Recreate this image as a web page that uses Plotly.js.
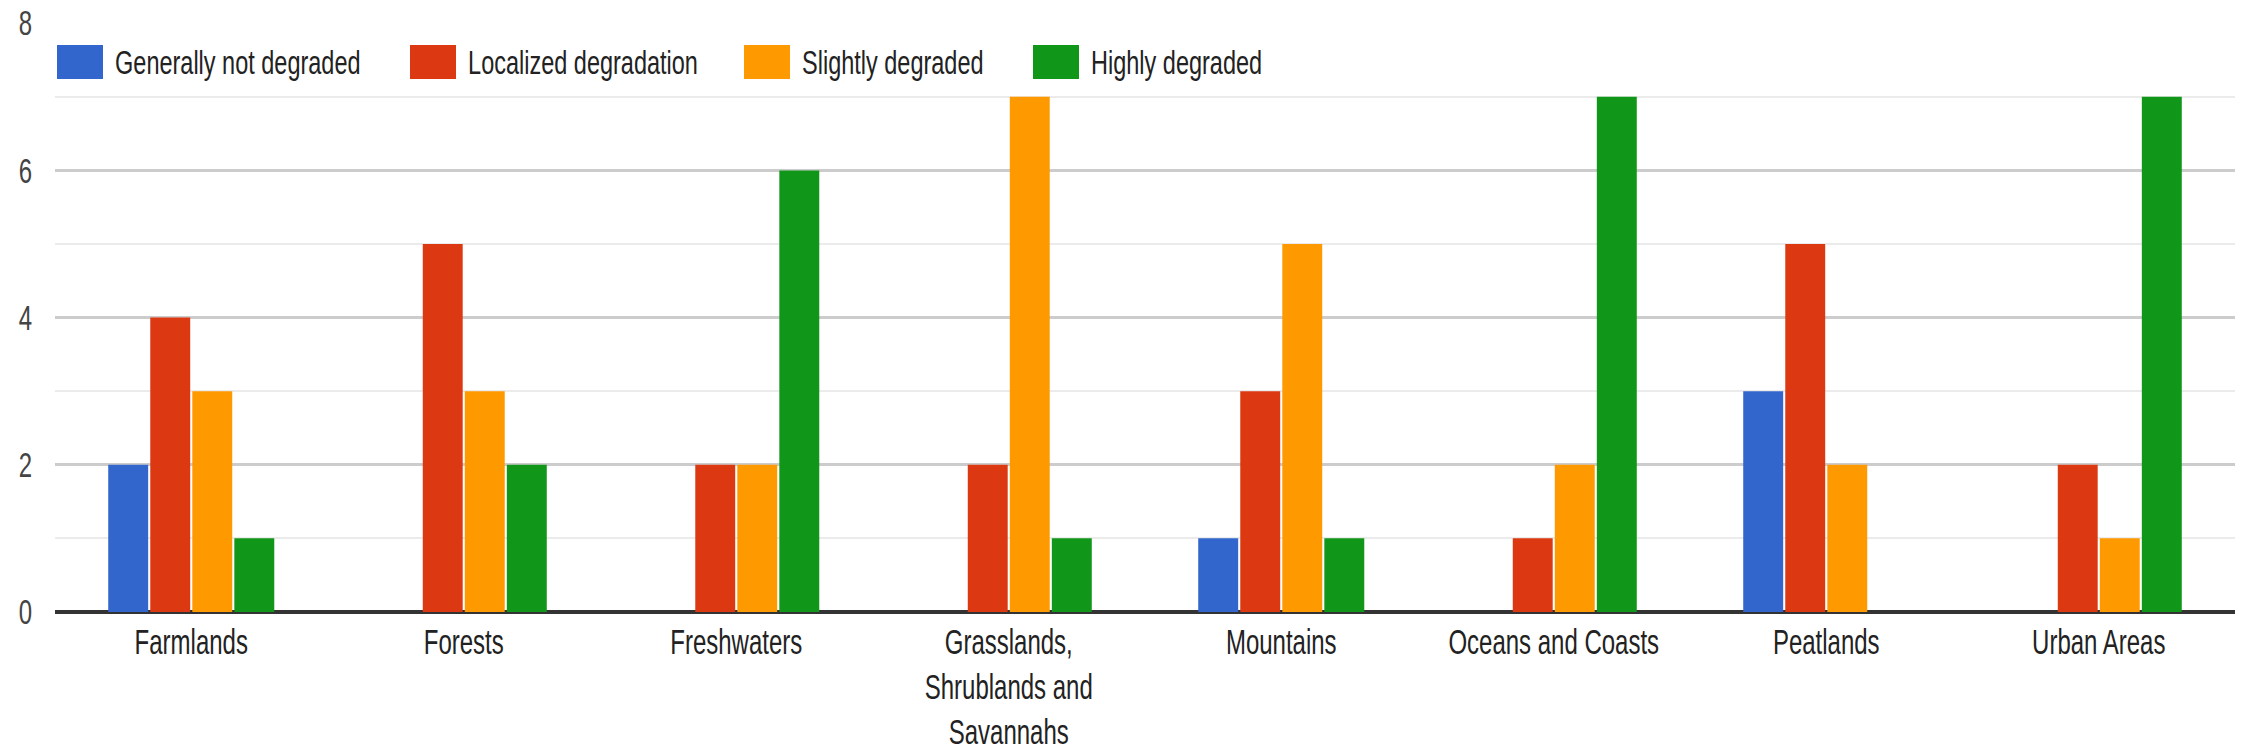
<!DOCTYPE html>
<html>
<head>
<meta charset="utf-8">
<script src="https://cdn.plot.ly/plotly-3.0.1.min.js"></script>
<style>
  html, body { margin: 0; padding: 0; background: #ffffff; width: 2247px; height: 751px; overflow: hidden; }
  #outer { position: relative; width: 2247px; height: 751px; overflow: hidden; }
  #wrap { position: absolute; left: 0; top: 0; width: 2247px; height: 518px; transform: scaleY(1.45); transform-origin: 0 0; }
  #chart { width: 2247px; height: 518px; }
</style>
</head>
<body>
<div id="outer"><div id="wrap"><div id="chart"></div></div></div>
<script>
// ---- data ----
const categories = ["Farmlands", "Forests", "Freshwaters", "Grasslands,<br>Shrublands and<br>Savannahs",
                    "Mountains", "Oceans and Coasts", "Peatlands", "Urban Areas"];
const seriesNames = ["Generally not degraded", "Localized degradation", "Slightly degraded", "Highly degraded"];
const seriesColors = ["#3366cc", "#dc3912", "#ff9900", "#109618"];
const notDegraded   = [2, 0, 0, 0, 1, 0, 3, 0];
const localized     = [4, 5, 2, 2, 3, 1, 5, 2];
const slightly      = [3, 3, 2, 7, 5, 2, 2, 1];
const highly        = [1, 2, 6, 1, 1, 7, 0, 7];
const yTickValues   = [0, 2, 4, 6, 8];

const seriesValues = [notDegraded, localized, slightly, highly];

// ---- layout helpers (pixel geometry, before the vertical 1.45 stretch) ----
const W = 2247, H = 518;
const mL = 55, mR = 12, mT = 16, mB = 96;
const plotW = W - mL - mR, plotH = H - mT - mB;
const px2x = p => (p - mL) / plotW;
const py2y = p => (H - mB - p) / plotH;

const traces = seriesValues.map((vals, i) => ({
  type: "bar",
  name: seriesNames[i],
  x: categories,
  y: vals,
  marker: { color: seriesColors[i], line: { width: 0 } },
  showlegend: false,
  hoverinfo: "skip"
}));

// manual legend (large square swatches like the reference)
const legendBoxLeft = [57, 410, 744, 1033];
const shapes = [], annotations = [];
seriesNames.forEach((n, i) => {
  shapes.push({
    type: "rect", xref: "paper", yref: "paper",
    x0: px2x(legendBoxLeft[i]), x1: px2x(legendBoxLeft[i] + 46),
    y0: py2y(54.5), y1: py2y(31),
    fillcolor: seriesColors[i], line: { width: 0 }
  });
  annotations.push({
    xref: "paper", yref: "paper",
    x: px2x(legendBoxLeft[i] + 56), y: py2y(42.8),
    xanchor: "left", yanchor: "middle",
    text: n, showarrow: false,
    font: { family: "Liberation Sans, Arial, sans-serif", size: 23.5, color: "#222222" }
  });
});

const layout = {
  width: W, height: H,
  margin: { l: mL, r: mR, t: mT, b: mB },
  paper_bgcolor: "#ffffff",
  plot_bgcolor: "#ffffff",
  font: { family: "Liberation Sans, Arial, sans-serif", size: 24, color: "#222222" },
  barmode: "group",
  bargap: 0.383,
  bargroupgap: 0.05,
  showlegend: false,
  xaxis: {
    type: "category",
    showgrid: false,
    showline: false,
    ticks: "",
    tickfont: { size: 24, color: "#222222" },
    ticklabelstandoff: 4,
    fixedrange: true
  },
  yaxis: {
    range: [0, 8],
    tickvals: yTickValues,
    ticktext: yTickValues.map(String),
    showgrid: true,
    gridcolor: "#cccccc",
    gridwidth: 2,
    minor: { dtick: 1, tick0: 0, showgrid: true, gridcolor: "#ebebeb", gridwidth: 1.5 },
    zeroline: true,
    zerolinecolor: "#333333",
    zerolinewidth: 2.5,
    showline: false,
    ticks: "",
    tickfont: { size: 24, color: "#444444" },
    ticklabelstandoff: 22,
    fixedrange: true
  },
  shapes: shapes,
  annotations: annotations
};

Plotly.newPlot("chart", traces, layout, { displayModeBar: false, staticPlot: true });
</script>
</body>
</html>
